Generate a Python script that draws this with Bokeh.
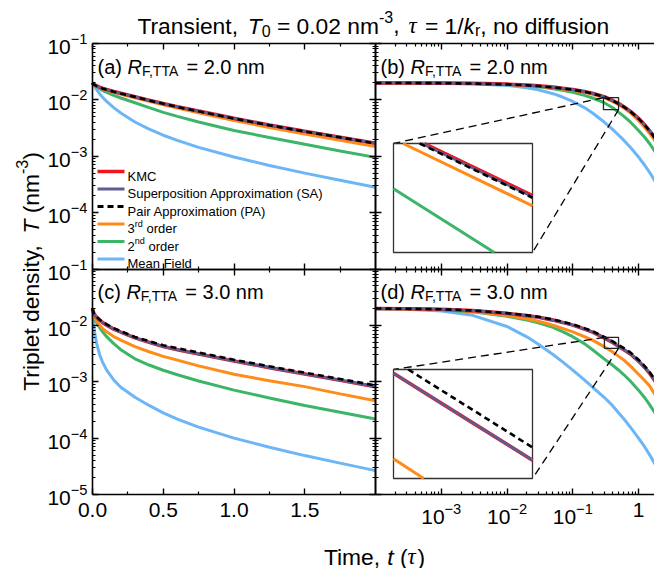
import math
from bokeh.plotting import figure
from bokeh.models import (Range1d, LogScale, LinearAxis, LogAxis, FixedTicker,
                          Label, PrintfTickFormatter)
from bokeh.embed import file_html
from bokeh.resources import INLINE

# ---------------- data ----------------
time = [0.0, 1e-4, 3e-4, 1e-3, 3e-3, 0.01, 0.02, 0.03, 0.05, 0.07, 0.1, 0.15,
        0.2, 0.3, 0.4, 0.5, 0.6, 0.75, 1.0, 1.25, 1.5, 1.75, 2.0]

# R_F,TTA = 2.0 nm
r2_kmc = [0.02, 0.01998, 0.01994, 0.01982, 0.01958, 0.01901, 0.01833, 0.01776, 0.01684, 0.01613, 0.01529, 0.01411,
          0.0131, 0.01141, 0.00985, 0.00861, 0.00757, 0.00632, 0.0047, 0.00358, 0.00277, 0.00218, 0.0017]
r2_sa = [0.02, 0.01996, 0.01991, 0.01978, 0.01952, 0.01893, 0.01824, 0.01767, 0.01676, 0.01605, 0.01521, 0.01404,
         0.01303, 0.01135, 0.0098, 0.00857, 0.00753, 0.00629, 0.00468, 0.00356, 0.002757, 0.00217, 0.00169]
r2_pa = [0.02, 0.01995, 0.0199, 0.01976, 0.01948, 0.01886, 0.01815, 0.01758, 0.01667, 0.01597, 0.01514, 0.01397,
         0.01297, 0.0113, 0.00975, 0.00852, 0.00749, 0.00626, 0.00466, 0.003545, 0.002745, 0.00216, 0.00168]
r2_3rd = [0.02, 0.01996, 0.01992, 0.0198, 0.01952, 0.01882, 0.01806, 0.0174, 0.01642, 0.01565, 0.01477, 0.01357,
          0.01258, 0.01092, 0.00941, 0.00818, 0.00715, 0.00591, 0.00432, 0.00324, 0.002474, 0.001923, 0.001482]
r2_2nd = [0.02, 0.01999, 0.01996, 0.01984, 0.01954, 0.01881, 0.01784, 0.01708, 0.01579, 0.01473, 0.01357, 0.01205,
          0.0108, 0.0089, 0.00731, 0.0060, 0.0051, 0.00406, 0.00287, 0.00215, 0.00163, 0.001244, 0.000955]
r2_mf = [0.02, 0.01998, 0.019936, 0.01979, 0.01937, 0.01805, 0.01642, 0.01506, 0.01288, 0.01123, 0.00937, 0.00729,
         0.00585, 0.00405, 0.00302, 0.00236, 0.00191, 0.00144, 0.00097, 0.000685, 0.000502, 0.000375, 0.000281]

# R_F,TTA = 3.0 nm
r3_kmc = [0.02, 0.0199, 0.0197, 0.0193, 0.0183, 0.0163, 0.0149, 0.0139, 0.0124, 0.0113, 0.0101, 0.0086,
          0.0076, 0.0060, 0.0050, 0.0042, 0.00371, 0.00312, 0.00233, 0.00178, 0.001374, 0.00106, 0.000817]
r3_sa = [0.02, 0.0199, 0.0197, 0.0193, 0.0183, 0.0163, 0.0149, 0.0139, 0.0124, 0.0113, 0.0101, 0.0086,
         0.0076, 0.0060, 0.0050, 0.0042, 0.00371, 0.00312, 0.00233, 0.00178, 0.001374, 0.00106, 0.000817]
r3_pa = [0.02, 0.0199, 0.0197, 0.0193, 0.01839, 0.01646, 0.01512, 0.01418, 0.01271, 0.01164, 0.01045, 0.00894,
         0.0079, 0.00624, 0.00525, 0.00445, 0.00393, 0.00331, 0.00246, 0.00188, 0.00145, 0.00112, 0.000862]
r3_3rd = [0.02, 0.01988, 0.01964, 0.01907, 0.01766, 0.015, 0.01311, 0.01182, 0.01004, 0.00887, 0.00768, 0.00632,
          0.00547, 0.0042, 0.00341, 0.00282, 0.00242, 0.00191, 0.00136, 0.00104, 0.00082, 0.00061, 0.00046]
r3_2nd = [0.02, 0.0198, 0.0195, 0.01898, 0.01735, 0.0145, 0.0124, 0.0111, 0.0092, 0.00775, 0.0063, 0.00475,
          0.0037, 0.00255, 0.00198, 0.0016, 0.00133, 0.00103, 0.00071, 0.000515, 0.00038, 0.000288, 0.000218]
r3_mf = [0.02, 0.01978, 0.01937, 0.01804, 0.01508, 0.00956, 0.00626, 0.004643, 0.003051, 0.002257, 0.001611, 0.001077,
         0.000799, 0.00053, 0.00038, 0.00028, 0.000218, 0.000157, 0.0001, 0.000069, 0.000049, 0.000036, 0.0000265]

# zoomed regions (data coordinates) and inset curves
zoom_b_t = [0.293, 0.497]
zoom_b_T = [0.00671, 0.01094]
zoom_d_t = [0.303, 0.497]
zoom_d_T = [0.00391, 0.00612]

inset_time = [0.28, 0.40, 0.52]
inb_kmc = [0.0120, 0.0098, 0.00844]
inb_sa = [0.01193, 0.00974, 0.00839]
inb_pa = [0.01188, 0.0097, 0.00836]
inb_3rd = [0.01146, 0.00936, 0.00806]
inb_2nd = [0.00924, 0.00708, 0.00582]
ind_kmc = [0.00638, 0.00493, 0.00408]
ind_sa = [0.00638, 0.00493, 0.00408]
ind_pa = [0.00673, 0.0052, 0.0043]
ind_3rd = [0.0045, 0.00344, 0.00283]

lin_ticks = [0.0, 0.5, 1.0, 1.5]
lin_minor = [0.25, 0.75, 1.25, 1.75]
logx_ticks = [1e-3, 1e-2, 1e-1, 1.0]
logy_ticks_top = [1e-4, 1e-3, 1e-2, 1e-1]
logy_ticks_bot = [1e-5, 1e-4, 1e-3, 1e-2, 1e-1]

# ---------------- styles ----------------
C_KMC = "#f0141e"
C_SA = "#5e5c92"
C_PA = "#000000"
C_3RD = "#ff8c1a"
C_2ND = "#3cb568"
C_MF = "#6cb6f7"
FONT = "Liberation Sans"

# ---------------- layout (pixels) ----------------
W, H = 654, 568
FL, FR, FT, FB = 92, 654, 43, 494          # panel block edges
XMID, YMID = 375.0, 268.5
LIN_K = (XMID - FL) / 2.0                   # px per time unit (left panels 0..2)
LOGX_END = 1.75
LOGX_K = (FR - XMID) / (math.log10(LOGX_END) + 4)   # px per decade (right panels)
Y_K = (YMID - FT) / 4.0                     # px per decade (both rows)


def lx(px):
    return (px - FL) / LIN_K


def gx(px):
    return 10 ** (-4 + (px - XMID) / LOGX_K)


def ty(py):
    return 10 ** (-1 - (py - FT) / Y_K)


def by(py):
    return 10 ** (-1 - (py - YMID) / Y_K)


# the plotting frame covers the whole canvas; panels are sub-regions of it
p = figure(width=W, height=H, output_backend="svg", toolbar_location=None,
           x_range=Range1d(lx(0), lx(W)), y_range=Range1d(ty(H), ty(0)),
           y_axis_type="log", x_axis_location=None, y_axis_location=None,
           min_border_left=0, min_border_right=0, min_border_top=0, min_border_bottom=0)
p.extra_x_ranges = {"logx": Range1d(gx(0), gx(W))}
p.extra_x_scales = {"logx": LogScale()}
p.extra_y_ranges = {"bot": Range1d(by(H), by(0))}
p.extra_y_scales = {"bot": LogScale()}
p.xgrid.visible = False
p.ygrid.visible = False
p.outline_line_color = None
p.background_fill_color = "white"
p.border_fill_color = "white"

# ---------------- curves ----------------
panels = [
    ("default", "default", False, [r2_mf, r2_2nd, r2_3rd, r2_kmc, r2_sa, r2_pa]),
    ("logx", "default", True, [r2_mf, r2_2nd, r2_3rd, r2_kmc, r2_sa, r2_pa]),
    ("default", "bot", False, [r3_mf, r3_2nd, r3_3rd, r3_kmc, r3_sa, r3_pa]),
    ("logx", "bot", True, [r3_mf, r3_2nd, r3_3rd, r3_kmc, r3_sa, r3_pa]),
]
styles = [(C_MF, 3, None), (C_2ND, 3, None), (C_3RD, 3, None),
          (C_KMC, 3.6, None), (C_SA, 2.6, None), (C_PA, 2.6, "6 4")]
for xr, yr, is_log, sers in panels:
    for ser, (col, lw, dash) in zip(sers, styles):
        xs = time[1:] if is_log else time
        ys = ser[1:] if is_log else ser
        kw = dict(line_dash=dash) if dash else {}
        p.line(xs, ys, x_range_name=xr, y_range_name=yr, line_color=col, line_width=lw, **kw)


# ---------------- insets ----------------
def clip_poly(xs, ys, x0, x1, y0, y1):
    pieces, cur = [], []
    for i in range(len(xs) - 1):
        ax, ay, bx, bY = xs[i], ys[i], xs[i + 1], ys[i + 1]
        dx, dy = bx - ax, bY - ay
        u0, u1, ok = 0.0, 1.0, True
        for pp, q in ((-dx, ax - x0), (dx, x1 - ax), (-dy, ay - y0), (dy, y1 - ay)):
            if pp == 0:
                if q < 0:
                    ok = False
                    break
            else:
                r = q / pp
                if pp < 0:
                    u0 = max(u0, r)
                else:
                    u1 = min(u1, r)
        if not ok or u0 > u1:
            if cur:
                pieces.append(cur)
                cur = []
            continue
        if not cur:
            cur = [(ax + u0 * dx, ay + u0 * dy)]
        cur.append((ax + u1 * dx, ay + u1 * dy))
        if u1 < 1:
            pieces.append(cur)
            cur = []
    if cur:
        pieces.append(cur)
    return pieces


def draw_inset(zt, zT, rect, yconv, yr, series):
    L, T, R, B = rect
    lt0, lt1 = math.log10(zt[0]), math.log10(zt[1])
    lT0, lT1 = math.log10(zT[0]), math.log10(zT[1])
    p.line([zt[0], gx(L)], [zT[1], yconv(T)], x_range_name="logx", y_range_name=yr,
           line_color="black", line_width=1.3, line_dash="8 5")
    p.line([zt[1], gx(R)], [zT[0], yconv(B)], x_range_name="logx", y_range_name=yr,
           line_color="black", line_width=1.3, line_dash="8 5")
    p.quad(left=[zt[0]], right=[zt[1]], bottom=[zT[0]], top=[zT[1]], x_range_name="logx",
           y_range_name=yr, fill_color=None, line_color="#222222", line_width=1.3)
    p.quad(left=[gx(L)], right=[gx(R)], bottom=[yconv(B)], top=[yconv(T)], x_range_name="logx",
           y_range_name=yr, fill_color="white", line_color="#333333", line_width=1.3)
    for ser, (col, lw, dash) in series:
        lxs = [math.log10(v) for v in inset_time]
        lys = [math.log10(v) for v in ser]
        for piece in clip_poly(lxs, lys, lt0, lt1, lT0, lT1):
            pxs = [L + (a - lt0) / (lt1 - lt0) * (R - L) for a, _ in piece]
            pys = [B - (b - lT0) / (lT1 - lT0) * (B - T) for _, b in piece]
            kw = dict(line_dash=dash) if dash else {}
            p.line([gx(v) for v in pxs], [yconv(v) for v in pys], x_range_name="logx",
                   y_range_name=yr, line_color=col, line_width=lw, **kw)


draw_inset(zoom_b_t, zoom_b_T, (393, 143, 532, 252), ty, "default",
           [(inb_2nd, styles[1]), (inb_3rd, styles[2]), (inb_kmc, styles[3]),
            (inb_sa, styles[4]), (inb_pa, styles[5])])
draw_inset(zoom_d_t, zoom_d_T, (393, 369, 532, 478), by, "bot",
           [(ind_3rd, styles[2]), (ind_kmc, styles[3]), (ind_sa, styles[4]), (ind_pa, styles[5])])


# ---------------- axes ----------------
def log_minor(lo, hi, top):
    out = []
    for d in range(lo, hi):
        for k in range(2, 10):
            v = k * 10.0 ** d
            if v <= top:
                out.append(v)
    return out


def add_axis(cls, side, xr, yr, loc, bounds, ticks, minor, labeled=False, fmt=None, overrides=None):
    ax = cls(x_range_name=xr, y_range_name=yr, fixed_location=loc, bounds=bounds,
             ticker=FixedTicker(ticks=ticks, minor_ticks=minor))
    ax.axis_line_width = 1.6
    ax.major_tick_line_width = 1.4
    ax.minor_tick_line_width = 1.2
    ax.major_tick_in = 6
    ax.major_tick_out = 0
    ax.minor_tick_in = 3
    ax.minor_tick_out = 0
    ax.major_label_text_font = FONT
    ax.major_label_text_font_size = "21px"
    ax.major_label_text_color = "black"
    if fmt is not None:
        ax.formatter = fmt
    if labeled:
        ax.major_label_standoff = 5 if side == "left" else 8
        if overrides:
            ax.major_label_overrides = overrides
    else:
        ax.major_label_overrides = {t: "" for t in ticks}
    p.add_layout(ax, side)


ymin_top = log_minor(-5, -1, 0.1)
xmin_log = log_minor(-4, 1, LOGX_END)

# panel (a)
add_axis(LogAxis, "left", "default", "default", 0.0, (1e-5, 1e-1), logy_ticks_top, ymin_top, labeled=True)
add_axis(LogAxis, "right", "default", "default", 2.0, (1e-5, 1e-1), logy_ticks_top, ymin_top)
add_axis(LinearAxis, "above", "default", "default", 0.1, (0, 2), lin_ticks, lin_minor)
add_axis(LinearAxis, "below", "default", "default", 1e-5, (0, 2), lin_ticks, lin_minor)
# panel (b)
add_axis(LogAxis, "left", "logx", "default", 1e-4, (1e-5, 1e-1), logy_ticks_top, ymin_top)
add_axis(LogAxis, "above", "logx", "default", 0.1, (1e-4, LOGX_END), logx_ticks, xmin_log)
add_axis(LogAxis, "below", "logx", "default", 1e-5, (1e-4, LOGX_END), logx_ticks, xmin_log)
# panel (c)
add_axis(LogAxis, "left", "default", "bot", 0.0, (1e-5, 1e-1), logy_ticks_bot, ymin_top, labeled=True)
add_axis(LogAxis, "right", "default", "bot", 2.0, (1e-5, 1e-1), logy_ticks_bot, ymin_top)
add_axis(LinearAxis, "above", "default", "bot", 0.1, (0, 2), lin_ticks, lin_minor)
add_axis(LinearAxis, "below", "default", "bot", 1e-5, (0, 2), lin_ticks, lin_minor, labeled=True,
         fmt=PrintfTickFormatter(format="%.1f"))
# panel (d)
add_axis(LogAxis, "left", "logx", "bot", 1e-4, (1e-5, 1e-1), logy_ticks_bot, ymin_top)
add_axis(LogAxis, "above", "logx", "bot", 0.1, (1e-4, LOGX_END), logx_ticks, xmin_log)
add_axis(LogAxis, "below", "logx", "bot", 1e-5, (1e-4, LOGX_END), logx_ticks, xmin_log, labeled=True,
         overrides={1.0: "1"})

# ---------------- rich text helper ----------------
ARIAL = {' ': 278, '(': 333, ')': 333, ',': 278, '-': 333, '.': 278, '/': 278, '=': 584,
         'A': 667, 'C': 722, 'F': 611, 'K': 667, 'M': 833, 'P': 667, 'R': 722, 'S': 667, 'T': 611,
         'a': 556, 'b': 556, 'c': 500, 'd': 556, 'e': 556, 'f': 278, 'i': 222, 'k': 500, 'l': 222,
         'm': 833, 'n': 556, 'o': 556, 'p': 556, 'r': 333, 's': 500, 't': 278, 'u': 556, 'x': 500,
         'y': 500, 'τ': 440}


def tw(s, size):
    return sum(ARIAL.get(c, 556) for c in s) / 1000.0 * size


def rich(x_px, y_px, pieces, size, align="left", vertical=False):
    specs = []
    for txt, st in pieces:
        s = size * 0.7 if st in ("sub", "sup") else size
        specs.append((txt, st, s, tw(txt, s) if st != "gap" else float(txt)))
    total = sum(w for *_, w in specs)
    pos = -total / 2 if align == "center" else 0.0
    for txt, st, s, w in specs:
        if st != "gap":
            lead = len(txt) - len(txt.lstrip(" "))
            core = txt.strip(" ")
            off = tw(" " * lead, s)
            shift = 0.22 * size if st == "sub" else (-0.36 * size if st == "sup" else 0.0)
            if vertical:
                sx, sy = x_px + shift, y_px - (pos + off)
            else:
                sx, sy = x_px + pos + off, y_px + shift
            if core:
                p.add_layout(Label(x=lx(sx), y=ty(sy), text=core,
                                   text_font="Liberation Serif" if st == "g" else FONT,
                                   text_font_style="italic" if st in ("i", "g") else "normal",
                                   text_font_size=f"{s:.1f}px", text_color="black",
                                   text_align="left", text_baseline="alphabetic",
                                   angle=math.pi / 2 if vertical else 0.0))
        pos += w


rich(373, 25, [("Transient,", "n"), ("9", "gap"), ("T", "i"), ("0", "sub"), (" = 0.02 nm", "n"),
               ("-3", "sup"), (",", "n"), ("9", "gap"), ("τ", "g"), (" = 1/", "n"), ("k", "i"),
               ("r", "sub"), (", no diffusion", "n")], 22.8, align="center")
rich(374, 556, [("Time, ", "n"), ("t", "i"), (" (", "n"), ("τ", "g"), (")", "n")], 22.8, align="center")
rich(30, 271, [("Triplet density,", "n"), ("9", "gap"), ("T", "i"), (" (nm", "n"), ("-3", "sup"),
               (")", "n")], 22.8, align="center", vertical=True)

for lab, val, x0, y0 in [("(a) ", "2.0", 97, 66), ("(b) ", "2.0", 380, 66),
                         ("(c) ", "3.0", 97, 66 + 225.5), ("(d) ", "3.0", 380, 66 + 225.5)]:
    rich(x0, y0, [(lab, "n"), ("R", "i"), ("F,TTA", "sub"), (f" = {val} nm", "n")], 20)

# ---------------- legend ----------------
leg_styles = [styles[3], styles[4], styles[5], styles[2], styles[1], styles[0]]
leg_text = [[("KMC", "n")], [("Superposition Approximation (SA)", "n")],
            [("Pair Approximation (PA)", "n")], [("3", "n"), ("rd", "sup"), (" order", "n")],
            [("2", "n"), ("nd", "sup"), (" order", "n")], [("Mean Field", "n")]]
for i, ((col, lw, dash), txt) in enumerate(zip(leg_styles, leg_text)):
    yc = 171 + i * 17.5
    kw = dict(line_dash=dash) if dash else {}
    p.line([lx(97), lx(124)], [ty(yc), ty(yc)], line_color=col, line_width=max(lw, 3), **kw)
    rich(127, yc + 4.6, txt, 13)

open("out.html", "w").write(file_html(p, INLINE))
